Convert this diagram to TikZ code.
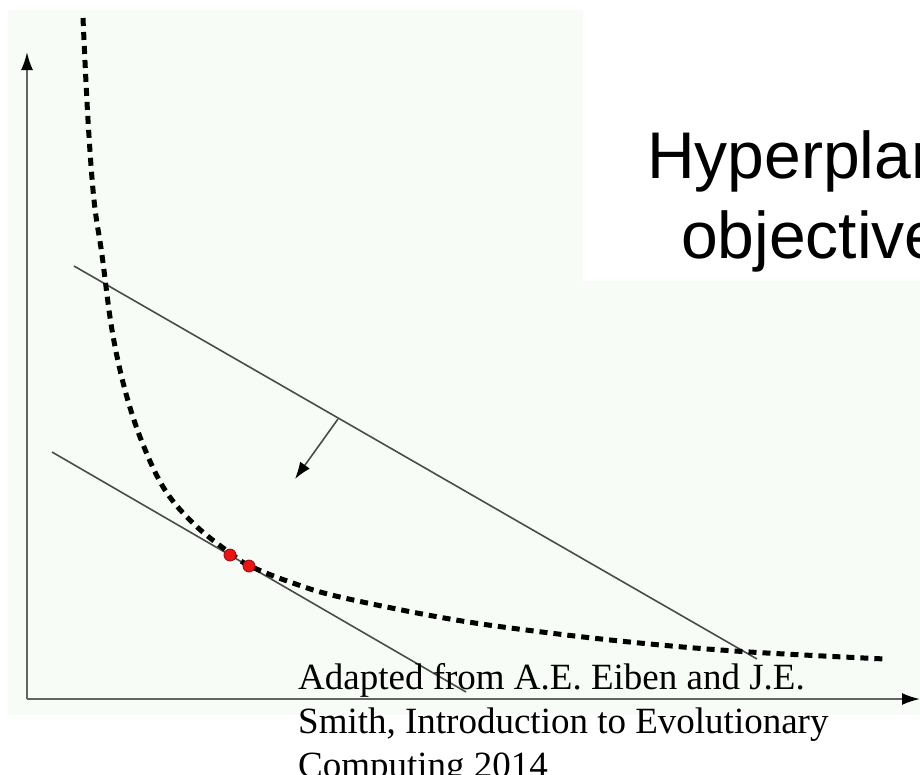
\documentclass[tikz,border=0pt]{standalone}
\usepackage{fontspec}
\setmainfont{Liberation Serif}
\newfontfamily\arialfont{Liberation Sans}
\usetikzlibrary{arrows.meta}
\definecolor{tint}{RGB}{247,252,247}
\definecolor{axisgray}{RGB}{100,100,100}
\definecolor{linegray}{RGB}{75,75,75}
\definecolor{dotred}{RGB}{235,20,20}
\definecolor{dotedge}{RGB}{150,10,10}
\tikzset{
  axisline/.style={draw=axisgray, line width=2pt, -{Latex[length=18pt,width=12pt,color=black]}},
  hyperline/.style={draw=linegray, line width=1.6pt},
  frontline/.style={draw=black, line width=5pt, dash pattern=on 8pt off 6pt},
  solpoint/.style={circle, fill=dotred, draw=dotedge, line width=0.8pt, inner sep=0pt, minimum size=12pt},
  pushline/.style={draw=linegray, line width=1.6pt, -{Latex[length=17pt,width=12pt,color=black]}},
  bigsans/.style={font=\arialfont\fontsize{66}{66}\selectfont, inner sep=0pt, anchor=base west},
  cite/.style={font=\fontsize{37}{37}\selectfont, inner sep=0pt, anchor=base west}
}
\begin{document}
\begin{tikzpicture}[x=1pt,y=-1pt]
\useasboundingbox (0,0) rectangle (920,774);
\begin{scope}
\clip (0,0) rectangle (920,774);
\fill[white] (0,0) rectangle (920,774);
\fill[tint] (8,10) rectangle (920,715);
\fill[white] (583,10) rectangle (920,281);
% axes
\coordinate (origin) at (27,699);
\coordinate (ytop) at (27,52);
\coordinate (xend) at (920,699);
\draw[axisline] (origin) -- (ytop);
\draw[axisline] (origin) -- (xend);
% hyperplanes
\coordinate (u1) at (74,266);
\coordinate (u2) at (757,659);
\coordinate (l1) at (52,452);
\coordinate (l2) at (466,692);
\draw[hyperline] (u1) -- (u2);
\draw[hyperline] (l1) -- (l2);
% push arrow
\coordinate (pushstart) at (338,419);
\coordinate (pushend) at (295,479);
\draw[pushline] (pushstart) -- (pushend);
% pareto front
\draw[frontline] plot[smooth, tension=0.6] coordinates {(83,18) (88,120) (94,200) (102,255) (112,330) (125,390) (142,442) (165,490) (195,525) (230,553) (250,566) (290,582) (340,597) (450,619) (550,633) (650,644) (750,652) (885,659)};
% solutions
\node[solpoint] (s1) at (230,555) {};
\node[solpoint] (s2) at (249,566) {};
% title text
\node[bigsans] (t1) at (647,178) {Hyperplan};
\node[bigsans] (t2) at (681,258) {objective};
% citation
\node[cite] (c1) at (298,689) {Adapted from A.E. Eiben and J.E.};
\node[cite] (c2) at (298,733) {Smith, Introduction to Evolutionary};
\node[cite] (c3) at (298,777) {Computing 2014};
\end{scope}
\end{tikzpicture}
\end{document}
